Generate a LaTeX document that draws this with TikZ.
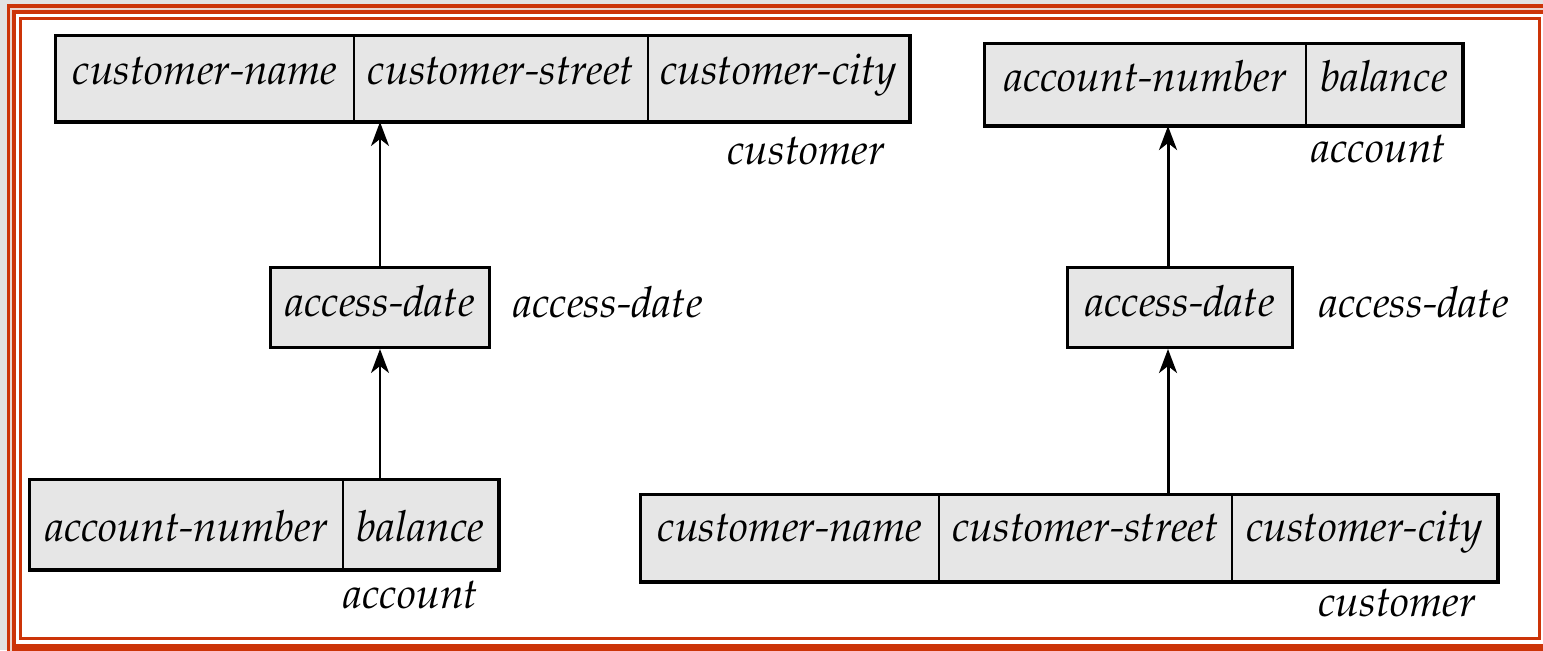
\documentclass[tikz,border=0pt]{standalone}
\usepackage[T1]{fontenc}
\usepackage{mathpazo}
\usetikzlibrary{arrows.meta}

\definecolor{framered}{RGB}{204,52,8}
\definecolor{framegap}{RGB}{234,212,204}
\definecolor{pagegray}{RGB}{226,226,226}
\definecolor{cellgray}{RGB}{230,230,230}

\tikzset{
  attr/.style={draw=black, fill=cellgray, line width=1pt, inner sep=0pt,
    anchor=north west, font=\fontsize{21.4}{24}\selectfont\itshape},
  row/.style 2 args={text height=#1, text depth=#2},
  outline/.style={draw=black, line width=1.5pt},
  tag/.style={inner sep=0pt, anchor=base west, font=\fontsize{21.4}{24}\selectfont\itshape},
  link/.style={-{Stealth[length=12pt,width=9pt,inset=3.5pt]}, line width=1pt},
  boldlink/.style={link, line width=1.5pt},
}

\begin{document}
\begin{tikzpicture}[x=0.5pt, y=-0.5pt]
\useasboundingbox (0,0) rectangle (1543,650);

% ---- page frame ----
\begin{scope}
  \clip (0,0) rectangle (1543,650);
  \fill[pagegray] (0,0) rectangle (1543,650);
  \fill[framered] (7,4) rectangle (1560,670);
  \fill[framegap] (10,8) rectangle (1557,666);
  \fill[framered] (12,10) rectangle (1555,664);
  \fill[white] (16,14) rectangle (1552,644);
  \fill[framered] (19,17) rectangle (1541,640);
  \fill[white] (22,20) rectangle (1538,637);
\end{scope}

% ---- left: customer <- access-date <- account ----
\node[attr, row={24pt}{18.5pt}, minimum width=149pt]   (lc1) at (55,35)  {customer-name};
\node[attr, row={24pt}{18.5pt}, minimum width=147pt]   (lc2) at (353,35) {customer-street};
\node[attr, row={24pt}{18.5pt}, minimum width=130.5pt] (lc3) at (647,35) {customer-city};
\draw[outline] (lc1.north west) rectangle (lc3.south east);
\node[tag] (lcname) at (727,164) {customer};

\node[attr, outline, row={24.5pt}{15.5pt}, minimum width=109.5pt] (lad) at (269,266) {access-date};
\node[tag] (ladname) at (513,317) {access-date};

\node[attr, row={30.5pt}{14pt}, minimum width=156.5pt] (la1) at (29,479)  {account-number};
\node[attr, row={30.5pt}{14pt}, minimum width=77.5pt]  (la2) at (342,479) {balance};
\draw[outline] (la1.north west) rectangle (la2.south east);
\node[tag] (laname) at (343,608) {account};

\coordinate (lx) at (380,0);
\draw[link] (lx |- la2.north) -- (lx |- lad.south);
\draw[link] (lx |- lad.north) -- (lx |- lc2.south);

% ---- right: account <- access-date <- customer ----
\node[attr, row={23.5pt}{17pt}, minimum width=160.5pt] (ra1) at (984,43)  {account-number};
\node[attr, row={23.5pt}{17pt}, minimum width=78pt]    (ra2) at (1305,43) {balance};
\draw[outline] (ra1.north west) rectangle (ra2.south east);
\node[tag] (raname) at (1311,162) {account};

\node[attr, outline, row={24.5pt}{15.5pt}, minimum width=112.5pt] (rad) at (1066,266) {access-date};
\node[tag] (radname) at (1319,317) {access-date};

\node[attr, row={23pt}{20pt}, minimum width=149pt]   (rc1) at (640,494)  {customer-name};
\node[attr, row={23pt}{20pt}, minimum width=146.5pt] (rc2) at (938,494)  {customer-street};
\node[attr, row={23pt}{20pt}, minimum width=132.5pt] (rc3) at (1231,494) {customer-city};
\draw[outline] (rc1.north west) rectangle (rc3.south east);
\node[tag] (rcname) at (1318,616) {customer};

\coordinate (rx) at (1168,0);
\draw[boldlink] (rx |- rc2.north) -- (rx |- rad.south);
\draw[boldlink] (rx |- rad.north) -- (rx |- ra1.south);
\end{tikzpicture}
\end{document}
